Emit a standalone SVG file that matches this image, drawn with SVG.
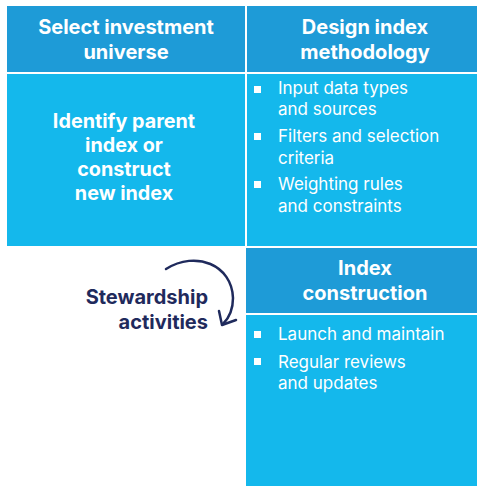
<svg xmlns="http://www.w3.org/2000/svg" width="477" height="486" viewBox="0 0 477 486">
<style>
.hd{fill:#1E9BD7}
.bd{fill:#14B8EC}
.ht{font-family:Inter,"Open Sans",sans-serif;font-weight:700;font-size:20px;fill:#fff;text-anchor:middle}
.bt{font-family:Inter,"Open Sans",sans-serif;font-size:17px;fill:#fff}
.lt{font-family:Inter,"Open Sans",sans-serif;font-weight:700;font-size:19.8px;fill:#fff;text-anchor:middle}
.st{font-family:Inter,"Open Sans",sans-serif;font-weight:700;font-size:20px;fill:#1F2A5C;text-anchor:end}
.bl{fill:#fff}
</style>
<rect width="477" height="486" fill="#fff"/>
<g id="select-universe">
<rect class="hd" x="7" y="6" width="238" height="66"/>
<text class="ht" x="126" y="34">Select investment</text>
<text class="ht" x="126" y="59">universe</text>
</g>
<g id="identify-parent">
<rect class="bd" x="7" y="74" width="238" height="172"/>
<text class="lt" x="124" y="128">Identify parent</text>
<text class="lt" x="124" y="152">index or</text>
<text class="lt" x="124" y="176">construct</text>
<text class="lt" x="124" y="200">new index</text>
</g>
<g id="design-methodology">
<rect class="hd" x="247" y="6" width="230" height="66"/>
<text class="ht" x="365" y="34">Design index</text>
<text class="ht" x="365" y="59">methodology</text>
<rect class="bd" x="247" y="74" width="230" height="172"/>
<rect class="bl" x="254" y="86" width="7" height="7"/>
<text class="bt" x="278" y="94">Input data types</text>
<text class="bt" x="278" y="115">and sources</text>
<rect class="bl" x="254" y="133" width="7" height="7"/>
<text class="bt" x="278" y="142">Filters and selection</text>
<text class="bt" x="278" y="164">criteria</text>
<rect class="bl" x="254" y="181" width="7" height="7"/>
<text class="bt" x="278" y="190">Weighting rules</text>
<text class="bt" x="278" y="212">and constraints</text>
</g>
<g id="index-construction">
<rect class="hd" x="246" y="248" width="231" height="65"/>
<text class="ht" x="365" y="275">Index</text>
<text class="ht" x="365" y="300">construction</text>
<rect class="bd" x="246" y="315" width="231" height="171"/>
<rect class="bl" x="254" y="331" width="7" height="7"/>
<text class="bt" x="278" y="340">Launch and maintain</text>
<rect class="bl" x="254" y="358" width="7" height="7"/>
<text class="bt" x="278" y="368">Regular reviews</text>
<text class="bt" x="278" y="389">and updates</text>
</g>
<g id="stewardship">
<text class="st" x="208" y="304">Stewardship</text>
<text class="st" x="208" y="329">activities</text>
</g>
<g id="connectors" fill="none" stroke="#1F2A5C" stroke-width="2.5" stroke-linecap="round" stroke-linejoin="round">
<path d="M166 269 C196 250 232 265 233 298 C233 310 229 318 223 324"/>
<path d="M219 311 L222 325 L236 320"/>
</g>
</svg>
